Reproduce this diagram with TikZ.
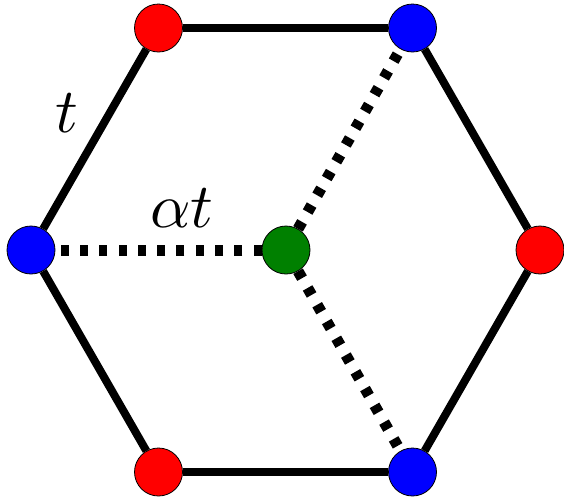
\documentclass[tikz,border=0pt]{standalone}
\usepackage{graphicx}
\usetikzlibrary{calc}
\definecolor{vred}{RGB}{255,0,0}
\definecolor{vblue}{RGB}{0,0,255}
\definecolor{vgreen}{RGB}{0,128,0}
\newcommand{\biglbl}[1]{\scalebox{6.3}{#1}}
\begin{document}
\begin{tikzpicture}[x=1pt,y=-1pt,
  site/.style={circle,draw=black,line width=0.8pt,minimum size=48pt,inner sep=0pt},
  redsite/.style={site,fill=vred},
  bluesite/.style={site,fill=vblue},
  greensite/.style={site,fill=vgreen},
  bond/.style={line width=8pt},
  hop/.style={line width=11pt,dash pattern=on 8pt off 11.3pt},
  lbl/.style={inner sep=0pt}]
\useasboundingbox (0,0) rectangle (564,499);
\node[redsite] (tl) at (158.5,28) {};
\node[bluesite] (tr) at (412.5,28) {};
\node[redsite] (r) at (540,250) {};
\node[bluesite] (br) at (412.5,472) {};
\node[redsite] (bl) at (158.5,472) {};
\node[bluesite] (l) at (31,250) {};
\node[greensite] (c) at (286,250) {};
\draw[bond] (tl) -- (tr);
\draw[bond] (tr) -- (r);
\draw[bond] (r) -- (br);
\draw[bond] (br) -- (bl);
\draw[bond] (bl) -- (l);
\draw[bond] (l) -- (tl);
\draw[hop] (c) -- (l);
\draw[hop] (c) -- (tr);
\draw[hop] (c) -- (br);
\node[lbl] (tlab) at (67,113) {\biglbl{$t$}};
\node[lbl] (alab) at (182,208) {\biglbl{$\alpha t$}};
\end{tikzpicture}
\end{document}
